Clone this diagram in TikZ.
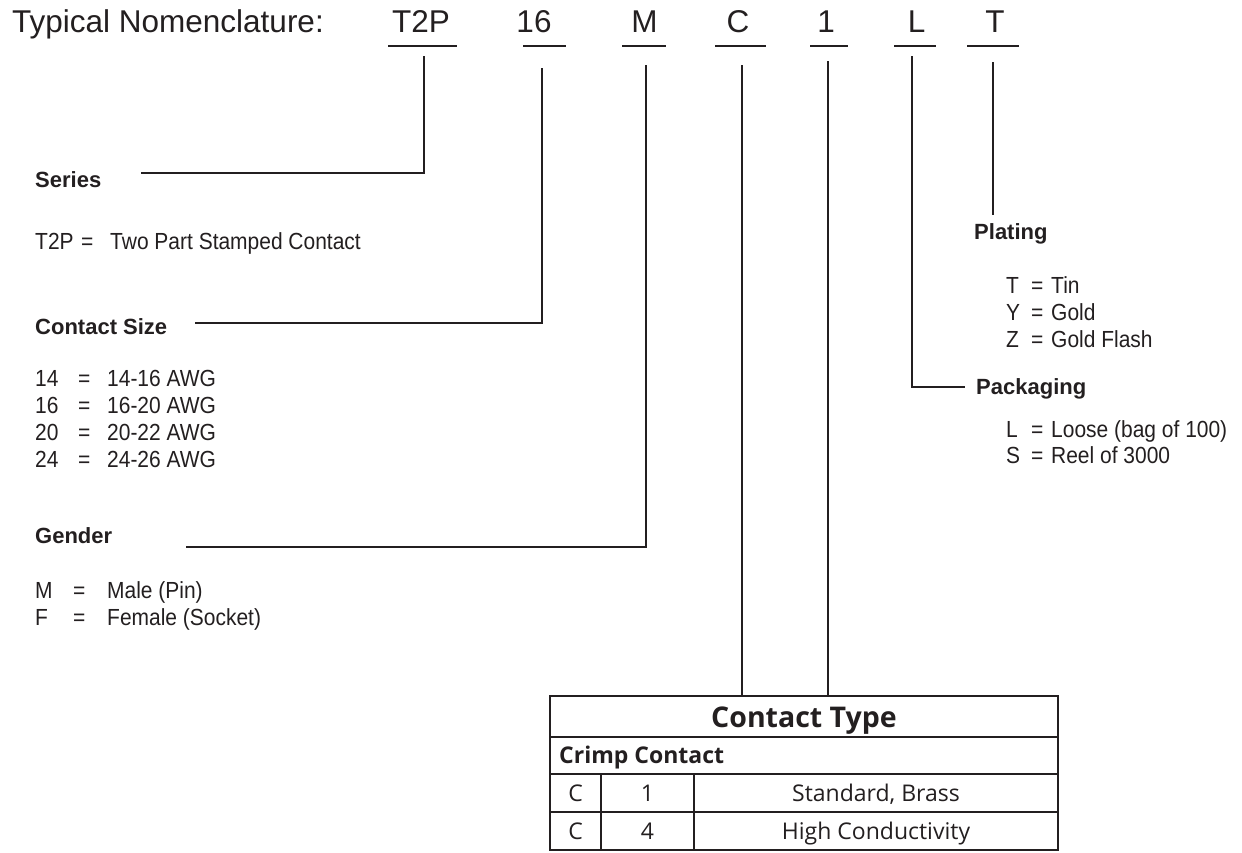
\documentclass[tikz,border=0pt]{standalone}
\usepackage{fontspec}
\setmainfont{Liberation Sans}
\newfontfamily\condfont{Liberation Sans}[FakeStretch=0.9]
\newfontfamily\tabfont{Open Sans}
\definecolor{ink}{RGB}{35,31,32}
\begin{document}
\begin{tikzpicture}[x=1pt,y=-1pt,
  title/.style={anchor=base west,inner sep=0pt,font=\fontsize{31.5}{36}\selectfont,text=ink},
  code/.style={anchor=base,inner sep=0pt,font=\fontsize{31.5}{36}\selectfont,text=ink},
  head/.style={anchor=base west,inner sep=0pt,font=\bfseries\fontsize{22}{26}\selectfont,text=ink},
  body/.style={anchor=base west,inner sep=0pt,font=\condfont\fontsize{23.3}{27}\selectfont,text=ink},
  thead/.style={anchor=base,inner sep=0pt,font=\tabfont\bfseries\fontsize{28.5}{32}\selectfont,text=ink},
  tsub/.style={anchor=base west,inner sep=0pt,font=\tabfont\bfseries\fontsize{23}{27}\selectfont,text=ink},
  tcell/.style={anchor=base,inner sep=0pt,font=\tabfont\fontsize{23}{27}\selectfont,text=ink},
  uline/.style={line width=2.6pt,draw=ink},
  conn/.style={line width=1.3pt,draw=ink},
  tabline/.style={line width=2.2pt,draw=ink}]
\useasboundingbox (0,0) rectangle (1242,852);
\fill[white] (0,0) rectangle (1242,852);

% title and codes
\node[title] (title) at (12,32) {Typical Nomenclature:};
\node[code] (cT2P) at (421,32) {T2P};
\node[code] (c16) at (534,32) {16};
\node[code] (cM) at (644.5,32) {M};
\node[code] (cC) at (738,32) {C};
\node[code] (c1) at (826,32) {1};
\node[code] (cL) at (916.5,32) {L};
\node[code] (cT) at (995,32) {T};

\draw[uline] (388,46) -- (457,46);
\draw[uline] (523,46) -- (566,46);
\draw[uline] (622,46) -- (666,46);
\draw[uline] (715,46) -- (766,46);
\draw[uline] (810,46) -- (848,46);
\draw[uline] (894,46) -- (936,46);
\draw[uline] (967,46) -- (1019,46);

% left column
\node[head] (series) at (35,187) {Series};
\node[body] (seriesA) at (35,249) {\makebox[46pt][l]{T2P}\makebox[29pt][l]{=}Two Part Stamped Contact};

\node[head] (csize) at (35,334) {Contact Size};
\node[body] (cs14) at (35,386) {\makebox[43pt][l]{14}\makebox[29pt][l]{=}14-16 AWG};
\node[body] (cs16) at (35,413) {\makebox[43pt][l]{16}\makebox[29pt][l]{=}16-20 AWG};
\node[body] (cs20) at (35,440) {\makebox[43pt][l]{20}\makebox[29pt][l]{=}20-22 AWG};
\node[body] (cs24) at (35,467) {\makebox[43pt][l]{24}\makebox[29pt][l]{=}24-26 AWG};

\node[head] (gender) at (35,543) {Gender};
\node[body] (gM) at (35,598) {\makebox[38pt][l]{M}\makebox[34pt][l]{=}Male (Pin)};
\node[body] (gF) at (35,625) {\makebox[38pt][l]{F}\makebox[34pt][l]{=}Female (Socket)};

% right column
\node[head] (plating) at (974,239) {Plating};
\node[body] (pT) at (1006,293) {\makebox[25pt][l]{T}\makebox[20pt][l]{=}Tin};
\node[body] (pY) at (1006,320) {\makebox[25pt][l]{Y}\makebox[20pt][l]{=}Gold};
\node[body] (pZ) at (1006,347) {\makebox[25pt][l]{Z}\makebox[20pt][l]{=}Gold Flash};

\node[head] (packaging) at (976,394) {Packaging};
\node[body] (kL) at (1006,437) {\makebox[25pt][l]{L}\makebox[20pt][l]{=}Loose (bag of 100)};
\node[body] (kS) at (1006,463) {\makebox[25pt][l]{S}\makebox[20pt][l]{=}Reel of 3000};

% connector end points
\coordinate (vT2P) at (424,56);
\coordinate (eSeries) at (141,173);
\coordinate (v16) at (542,68);
\coordinate (eSize) at (195,323);
\coordinate (vM) at (646,65);
\coordinate (eGender) at (186,547);
\coordinate (vC) at (742,65);
\coordinate (v1) at (828,61);
\coordinate (vL) at (912,56);
\coordinate (ePack) at (965,387);
\coordinate (vT) at (993,62);
\coordinate (ePlat) at (993,215);

% table
\coordinate (tabNW) at (550,696);
\coordinate (tabSE) at (1058,850);
\coordinate (tabC) at (742,696);
\coordinate (tab1) at (828,696);
\draw[tabline] (tabNW) rectangle (tabSE);
\draw[tabline] (550,737) -- (1058,737);
\draw[tabline] (550,774) -- (1058,774);
\draw[tabline] (550,812) -- (1058,812);
\draw[tabline] (601,774) -- (601,850);
\draw[tabline] (694,774) -- (694,850);

\node[thead] (ctype) at (804,727) {Contact Type};
\node[tsub] (crimp) at (559,763) {Crimp Contact};
\node[tcell] (r1a) at (575.5,801) {C};
\node[tcell] (r1b) at (647.5,801) {1};
\node[tcell] (r1c) at (876,801) {Standard, Brass};
\node[tcell] (r2a) at (575.5,839) {C};
\node[tcell] (r2b) at (647.5,839) {4};
\node[tcell] (r2c) at (876,839) {High Conductivity};

% connectors
\draw[conn] (vT2P) |- (eSeries);
\draw[conn] (v16) |- (eSize);
\draw[conn] (vM) |- (eGender);
\draw[conn] (vC) -- (tabC);
\draw[conn] (v1) -- (tab1);
\draw[conn] (vL) |- (ePack);
\draw[conn] (vT) -- (ePlat);
\end{tikzpicture}
\end{document}
